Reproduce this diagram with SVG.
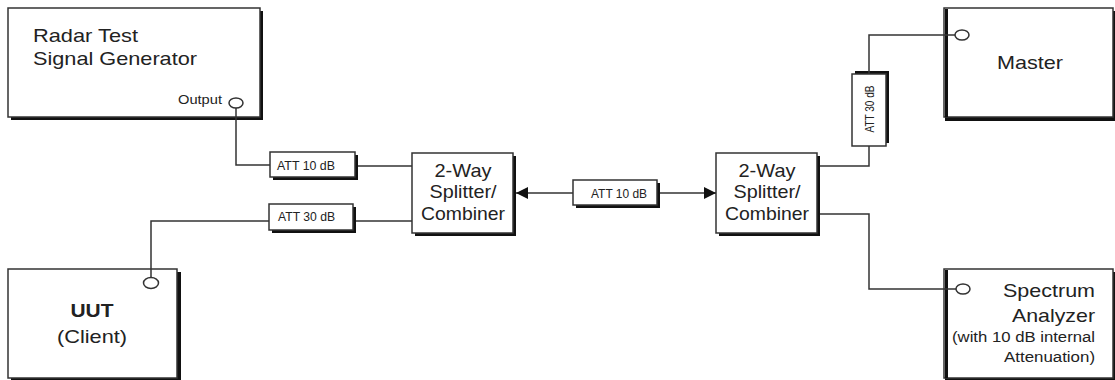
<svg xmlns="http://www.w3.org/2000/svg" width="1115" height="380" viewBox="0 0 1115 380">
<defs>
<style>
.box{fill:#fff;stroke:#333;stroke-width:1.5}
.sh{fill:#111}
.port{fill:#fff;stroke:#333;stroke-width:1.5}
.wire{fill:none;stroke:#333;stroke-width:1.5}
.t{font-family:"Liberation Sans",Arial,sans-serif;fill:#222}
.big{font-size:18.5px}
.mid{font-size:14px}
.sm{font-size:13px}
</style>
<marker id="ah" viewBox="0 0 12 12" refX="12" refY="6" markerWidth="12" markerHeight="12" markerUnits="userSpaceOnUse" orient="auto">
<path d="M0,0 L12,6 L0,12 Z" fill="#111"/>
</marker>
</defs>
<rect width="1115" height="380" fill="#fff"/>

<g id="radar">
<rect class="sh" x="11" y="11" width="252" height="109"/>
<rect class="box" x="8" y="8" width="252" height="109"/>
<text class="t big" x="33" y="42" textLength="105" lengthAdjust="spacingAndGlyphs">Radar Test</text>
<text class="t big" x="33" y="65" textLength="164" lengthAdjust="spacingAndGlyphs">Signal Generator</text>
<text class="t" font-size="12" x="178" y="104" textLength="44" lengthAdjust="spacingAndGlyphs">Output</text>
</g>

<g id="uut">
<rect class="sh" x="11" y="272" width="170" height="110"/>
<rect class="box" x="8" y="269" width="169" height="109"/>
<text class="t big" x="92" y="317" text-anchor="middle" font-weight="bold" textLength="43" lengthAdjust="spacingAndGlyphs">UUT</text>
<text class="t big" x="92" y="343" text-anchor="middle" textLength="70" lengthAdjust="spacingAndGlyphs">(Client)</text>
</g>

<g id="att1">
<rect class="sh" x="273" y="155" width="85" height="25"/>
<rect class="box" x="270" y="152" width="85" height="25"/>
<text class="t sm" x="277" y="170" textLength="58" lengthAdjust="spacingAndGlyphs">ATT 10 dB</text>
</g>

<g id="att2">
<rect class="sh" x="272" y="207" width="84" height="26"/>
<rect class="box" x="269" y="204" width="84" height="26"/>
<text class="t sm" x="278" y="221" textLength="57" lengthAdjust="spacingAndGlyphs">ATT 30 dB</text>
</g>

<g id="splitter1">
<rect class="sh" x="415" y="156" width="101" height="80"/>
<rect class="box" x="412" y="153" width="101" height="80"/>
<text class="t big" x="463" y="177" text-anchor="middle" textLength="57" lengthAdjust="spacingAndGlyphs">2-Way</text>
<text class="t big" x="463" y="198" text-anchor="middle" textLength="67" lengthAdjust="spacingAndGlyphs">Splitter/</text>
<text class="t big" x="463" y="220" text-anchor="middle" textLength="84" lengthAdjust="spacingAndGlyphs">Combiner</text>
</g>

<g id="att3">
<rect class="sh" x="576" y="183" width="84" height="25"/>
<rect class="box" x="573" y="180" width="84" height="25"/>
<text class="t sm" x="619" y="198" text-anchor="middle" textLength="56" lengthAdjust="spacingAndGlyphs">ATT 10 dB</text>
</g>

<g id="splitter2">
<rect class="sh" x="719" y="156" width="101" height="80"/>
<rect class="box" x="716" y="153" width="101" height="80"/>
<text class="t big" x="767" y="177" text-anchor="middle" textLength="57" lengthAdjust="spacingAndGlyphs">2-Way</text>
<text class="t big" x="767" y="198" text-anchor="middle" textLength="67" lengthAdjust="spacingAndGlyphs">Splitter/</text>
<text class="t big" x="767" y="220" text-anchor="middle" textLength="84" lengthAdjust="spacingAndGlyphs">Combiner</text>
</g>

<g id="att4">
<rect class="sh" x="855" y="71" width="34" height="72"/>
<rect class="box" x="852" y="74" width="34" height="72"/>
<text class="t sm" transform="translate(874 109) rotate(-90)" text-anchor="middle" textLength="47" lengthAdjust="spacingAndGlyphs">ATT 30 dB</text>
</g>

<g id="master">
<rect class="sh" x="945" y="11" width="170" height="110"/>
<rect class="box" x="944" y="8" width="169" height="109"/>
<rect class="sh" x="945" y="9" width="3" height="108"/>
<text class="t big" x="1030" y="69" text-anchor="middle" textLength="66" lengthAdjust="spacingAndGlyphs">Master</text>
</g>

<g id="spectrum">
<rect class="sh" x="945" y="272" width="170" height="110"/>
<rect class="box" x="944" y="269" width="169" height="109"/>
<rect class="sh" x="945" y="270" width="3" height="108"/>
<text class="t big" x="1095" y="297" text-anchor="end" textLength="92" lengthAdjust="spacingAndGlyphs">Spectrum</text>
<text class="t big" x="1095" y="322" text-anchor="end" textLength="83" lengthAdjust="spacingAndGlyphs">Analyzer</text>
<text class="t mid" x="1095" y="342" text-anchor="end" textLength="143" lengthAdjust="spacingAndGlyphs">(with 10 dB internal</text>
<text class="t mid" x="1095" y="362" text-anchor="end" textLength="91" lengthAdjust="spacingAndGlyphs">Attenuation)</text>
</g>

<g id="connectors">
<path class="wire" d="M236 108 V165 H270"/>
<path class="wire" d="M358 166 H412"/>
<path class="wire" d="M151 278 V221 H269"/>
<path class="wire" d="M356 221 H412"/>
<path class="wire" d="M573 193 H516" marker-end="url(#ah)"/>
<path class="wire" d="M660 193 H716" marker-end="url(#ah)"/>
<path class="wire" d="M820 166 H869 V146"/>
<path class="wire" d="M869 74 V35 H955"/>
<path class="wire" d="M820 214 H869 V289 H956"/>
</g>

<g id="ports">
<ellipse class="port" cx="236" cy="103" rx="7" ry="5"/>
<ellipse class="port" cx="151" cy="283" rx="7.5" ry="5.5"/>
<ellipse class="port" cx="962" cy="35" rx="7" ry="5"/>
<ellipse class="port" cx="963" cy="289" rx="7" ry="5"/>
</g>
</svg>
